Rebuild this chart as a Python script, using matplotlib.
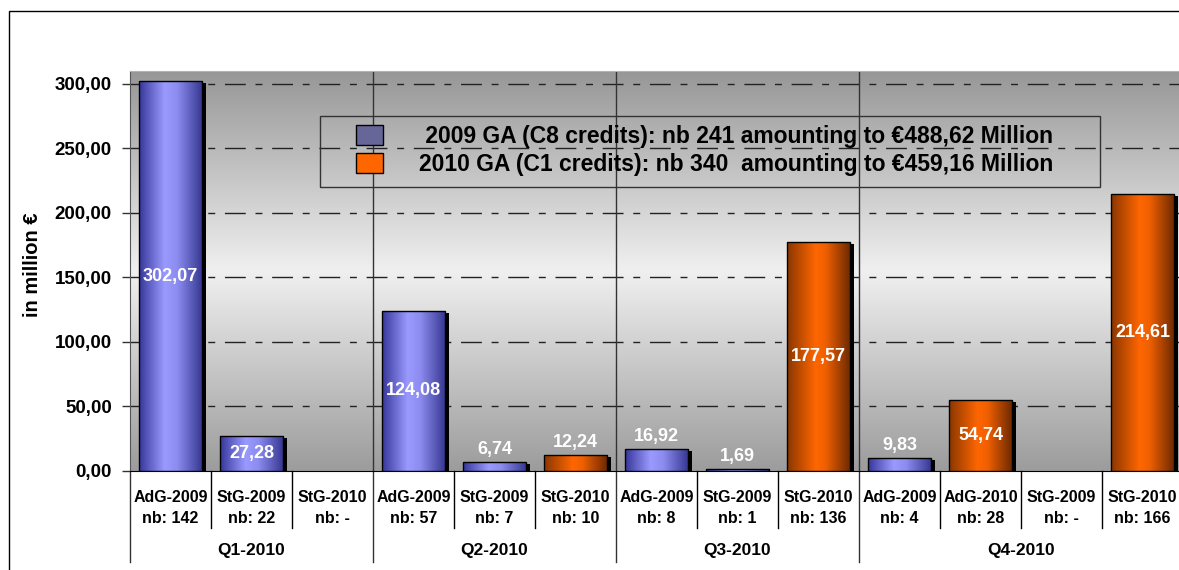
import matplotlib
matplotlib.use('Agg')
import matplotlib.pyplot as plt
import numpy as np
from matplotlib.colors import LinearSegmentedColormap
from matplotlib.patches import Rectangle, Patch
from matplotlib.ticker import FuncFormatter

# data
quarters = ['Q1-2010', 'Q2-2010', 'Q3-2010', 'Q4-2010']
quarter_sizes = [3, 3, 3, 4]
bar_types = ['AdG-2009', 'StG-2009', 'StG-2010',
             'AdG-2009', 'StG-2009', 'StG-2010',
             'AdG-2009', 'StG-2009', 'StG-2010',
             'AdG-2009', 'AdG-2010', 'StG-2009', 'StG-2010']
bar_nb = ['142', '22', '-', '57', '7', '10', '8', '1', '136', '4', '28', '-', '166']
amounts = [302.07, 27.28, 0, 124.08, 6.74, 12.24, 16.92, 1.69, 177.57,
           9.83, 54.74, 0, 214.61]
legend_labels = [' 2009 GA (C8 credits): nb 241 amounting to \u20ac488,62 Million',
                 '2010 GA (C1 credits): nb 340  amounting to \u20ac459,16 Million']

plt.rcParams['font.family'] = ['Liberation Sans', 'DejaVu Sans']
plt.rcParams['font.weight'] = 'bold'

W, H = 1179, 570
fig = plt.figure(figsize=(W / 100, H / 100), dpi=100)
fig.patch.set_facecolor('white')

# axes in pixel coords: x 130..1183, y 71..471
ax = fig.add_axes([130 / W, (H - 471) / H, 1053 / W, 400 / H])
n = len(amounts)
ymax = 310
ax.set_xlim(-0.5, n - 0.5)
ax.set_ylim(0, ymax)

# background gradient of plot area
bg_cmap = LinearSegmentedColormap.from_list(
    'bg', [(0.0, '#9c9c9c'), (0.5, '#f0f0f0'), (1.0, '#979797')])
grad = np.linspace(0, 1, 256).reshape(-1, 1)
ax.imshow(grad, cmap=bg_cmap, origin='lower', aspect='auto',
          extent=(-0.5, n - 0.5, 0, ymax), zorder=0)

# dashed grid
for yv in range(50, 301, 50):
    ax.axhline(yv, color='#222222', lw=1, linestyle=(0, (15, 7, 5, 7)), zorder=1)

# quarter separators inside the plot
bounds = np.cumsum(quarter_sizes)[:-1] - 0.5
for b in bounds:
    ax.axvline(b, color='#333333', lw=1, zorder=1)

blue_cmap = LinearSegmentedColormap.from_list(
    'blue', [(0.0, '#36369a'), (0.4, '#9999ff'), (0.6, '#8c8cf0'), (1.0, '#353590')])
orange_cmap = LinearSegmentedColormap.from_list(
    'orange', [(0.0, '#8a3600'), (0.45, '#ff6600'), (0.6, '#f06000'), (1.0, '#6a2800')])
hgrad = np.linspace(0, 1, 256).reshape(1, -1)

width = 0.78
for i, (t, v) in enumerate(zip(bar_types, amounts)):
    if v <= 0:
        continue
    cm = orange_cmap if '2010' in t else blue_cmap
    # shadow
    ax.bar(i + 0.05, v - 1.5, width=width, color='black', zorder=2)
    bar = ax.bar(i, v, width=width, color='none', edgecolor='black', lw=1, zorder=4)[0]
    im = ax.imshow(hgrad, cmap=cm, aspect='auto',
                   extent=(i - width / 2, i + width / 2, 0, v), zorder=3)
    im.set_clip_path(bar)
    lab = f'{v:.2f}'.replace('.', ',')
    if v >= 20:
        ax.text(i, v / 2, lab, color='white', fontsize=13, fontweight='bold',
                ha='center', va='center', zorder=5)
    else:
        ax.annotate(lab, (i, v), xytext=(0, 3), textcoords='offset points',
                    color='white', fontsize=13, fontweight='bold',
                    ha='center', va='bottom', zorder=5)

ax.set_xlim(-0.5, n - 0.5)
ax.set_ylim(0, ymax)

# axes styling
ax.set_xticks([])
ax.set_yticks(range(0, 301, 50))
ax.yaxis.set_major_formatter(FuncFormatter(lambda v, p: f'{v:.2f}'.replace('.', ',')))
ax.tick_params(axis='y', length=6, width=1, pad=7, labelsize=13.5, color='#333333')
for lbl in ax.get_yticklabels():
    lbl.set_fontweight('bold')
ax.spines['left'].set_color('#555555')
ax.spines['bottom'].set_color('black')
ax.spines['top'].set_color('#b4b4b4')
ax.spines['right'].set_visible(False)

# category labels and separators under the axis
tr = ax.get_xaxis_transform()
for i, (t, nbv) in enumerate(zip(bar_types, bar_nb)):
    ax.text(i, -0.065, t, transform=tr, ha='center', va='center', fontsize=11.5,
            fontweight='bold')
    ax.text(i, -0.118, 'nb: ' + nbv, transform=tr, ha='center', va='center',
            fontsize=11.5, fontweight='bold')
for k in range(n):
    x = k - 0.5
    long = k == 0 or (x in bounds)
    ax.plot([x, x], [0, -0.2275 if long else -0.1425], transform=tr,
            color='#333333' if long else 'black', lw=1, clip_on=False)

start = 0
for q, sz in zip(quarters, quarter_sizes):
    ax.text(start + (sz - 1) / 2, -0.198, q, transform=tr, ha='center', va='center',
            fontsize=12.5, fontweight='bold')
    start += sz

# legend frame drawn separately, legend itself unframed
ax.add_patch(Rectangle((190 / 1053, 1 - 116 / 400), 780 / 1053, 71 / 400,
                       transform=ax.transAxes, fill=False, edgecolor='#333333',
                       lw=1, zorder=6))
handles = [Patch(facecolor='#666699', edgecolor='black'),
           Patch(facecolor='#ff6600', edgecolor='black')]
leg = ax.legend(handles, legend_labels, loc='upper left',
                bbox_to_anchor=((356 - 130) / 1053, 1 - (125 - 71) / 400),
                fontsize=16.5, frameon=False,
                handlelength=1.17, handleheight=0.95, handletextpad=1.6,
                labelspacing=0.22, borderpad=0, borderaxespad=0)
for txt in leg.get_texts():
    txt.set_fontweight('bold')
leg.set_zorder(6)

fig.text(33 / W, 1 - 265 / H, 'in million \u20ac', rotation=90, ha='center',
         va='center', fontsize=14.5, fontweight='bold')

# outer chart border
fig.add_artist(Rectangle((9 / W, -0.5), 1.0, 0.5 + (H - 11) / H,
                         transform=fig.transFigure, fill=False,
                         edgecolor='black', lw=1))

fig.savefig('out.png', dpi=100)
